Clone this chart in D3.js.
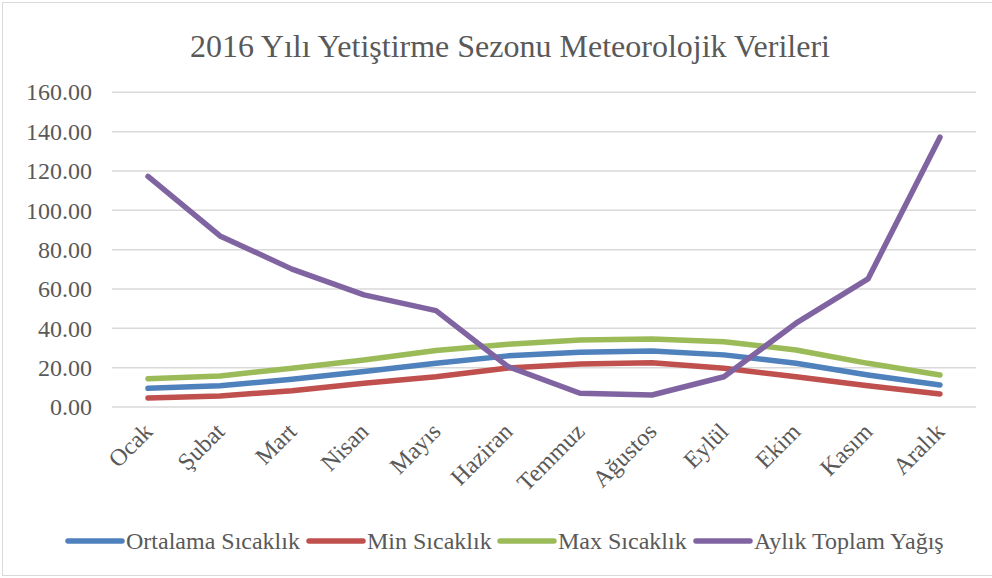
<!DOCTYPE html>
<html>
<head>
<meta charset="utf-8">
<script src="https://cdn.jsdelivr.net/npm/d3@7"></script>
<style>
  html, body { margin: 0; padding: 0; background: #fff; }
  svg { display: block; }
  svg text { font-family: "Liberation Serif", "Times New Roman", serif; fill: #595959; }
</style>
</head>
<body>
<svg id="chart" width="992" height="578"></svg>
<script>
// Monthly meteorological data for the 2016 growing season
const months = ["Ocak", "Şubat", "Mart", "Nisan", "Mayıs", "Haziran", "Temmuz", "Ağustos", "Eylül", "Ekim", "Kasım", "Aralık"];
const ortalamaSicaklik = [9.5, 10.8, 14.1, 18.0, 22.2, 26.0, 27.8, 28.5, 26.5, 22.2, 16.3, 11.2];
const minSicaklik = [4.6, 5.6, 8.3, 12.1, 15.4, 19.8, 21.9, 22.5, 19.7, 15.4, 10.8, 6.6];
const maxSicaklik = [14.4, 15.8, 19.7, 23.9, 28.7, 31.9, 34.1, 34.6, 33.2, 29.0, 22.2, 16.3];
const aylikToplamYagis = [117.2, 87.0, 70.1, 57.0, 49.0, 20.5, 7.0, 6.1, 15.4, 42.6, 65.1, 137.2];
const yTicks = [0, 20, 40, 60, 80, 100, 120, 140, 160];
const seriesNames = ["Ortalama Sıcaklık", "Min Sıcaklık", "Max Sıcaklık", "Aylık Toplam Yağış"];
const seriesColors = ["#4F81BD", "#C0504D", "#9BBB59", "#8064A2"];
const title = "2016 Yılı Yetiştirme Sezonu Meteorolojik Verileri";

const series = [ortalamaSicaklik, minSicaklik, maxSicaklik, aylikToplamYagis].map((values, i) => ({
  name: seriesNames[i], color: seriesColors[i], values
}));

const svg = d3.select("#chart");

// Outer chart border
svg.append("rect")
  .attr("x", 2.5).attr("y", 2.5).attr("width", 995).attr("height", 573)
  .attr("fill", "none").attr("stroke", "#D9D9D9").attr("stroke-width", 1);

const plot = { left: 112, right: 976, top: 92.3, bottom: 407 };

const x = d3.scaleBand().domain(months).range([plot.left, plot.right]).padding(0);
const y = d3.scaleLinear().domain([0, 160]).range([plot.bottom, plot.top]);
const cx = m => x(m) + x.bandwidth() / 2;

// Title
svg.append("text")
  .attr("x", 510).attr("y", 57)
  .attr("text-anchor", "middle")
  .style("font-size", "32px")
  .text(title);

// Horizontal gridlines
svg.append("g").selectAll("line").data(yTicks).join("line")
  .attr("x1", plot.left).attr("x2", plot.right)
  .attr("y1", d => y(d)).attr("y2", d => y(d))
  .attr("stroke", "#D9D9D9").attr("stroke-width", 1.5);

// Value axis labels
const yAxis = d3.axisLeft(y).tickValues(yTicks).tickSize(0).tickPadding(20)
  .tickFormat(d3.format(".2f"));
const yG = svg.append("g").attr("transform", `translate(${plot.left},0)`).call(yAxis);
yG.select(".domain").remove();
yG.selectAll("text").style("font-size", "24px");

// Category axis with rotated labels
const xAxis = d3.axisBottom(x).tickSize(0).tickPadding(0);
const xG = svg.append("g").attr("transform", `translate(0,${plot.bottom})`).call(xAxis);
xG.select(".domain").remove();
xG.selectAll("text")
  .style("font-size", "24px")
  .attr("text-anchor", "end")
  .attr("dy", null).attr("y", 0)
  .attr("transform", "translate(6,26) rotate(-45)");

// Series lines
const line = d3.line().x((d, i) => cx(months[i])).y(d => y(d));
svg.append("g").selectAll("path").data(series).join("path")
  .attr("d", d => line(d.values))
  .attr("fill", "none")
  .attr("stroke", d => d.color)
  .attr("stroke-width", 5.5)
  .attr("stroke-linecap", "round")
  .attr("stroke-linejoin", "round");

// Legend
const legendY = 541;
const legendXs = [68, 309, 500, 696];
const lg = svg.append("g").selectAll("g").data(series).join("g")
  .attr("transform", (d, i) => `translate(${legendXs[i]},${legendY})`);
lg.append("line")
  .attr("x1", 0).attr("x2", 54).attr("y1", 0).attr("y2", 0)
  .attr("stroke", d => d.color).attr("stroke-width", 5.5).attr("stroke-linecap", "round");
lg.append("text")
  .attr("x", 58).attr("y", 0).attr("dy", "0.35em")
  .style("font-size", "24px")
  .text(d => d.name);
</script>
</body>
</html>
